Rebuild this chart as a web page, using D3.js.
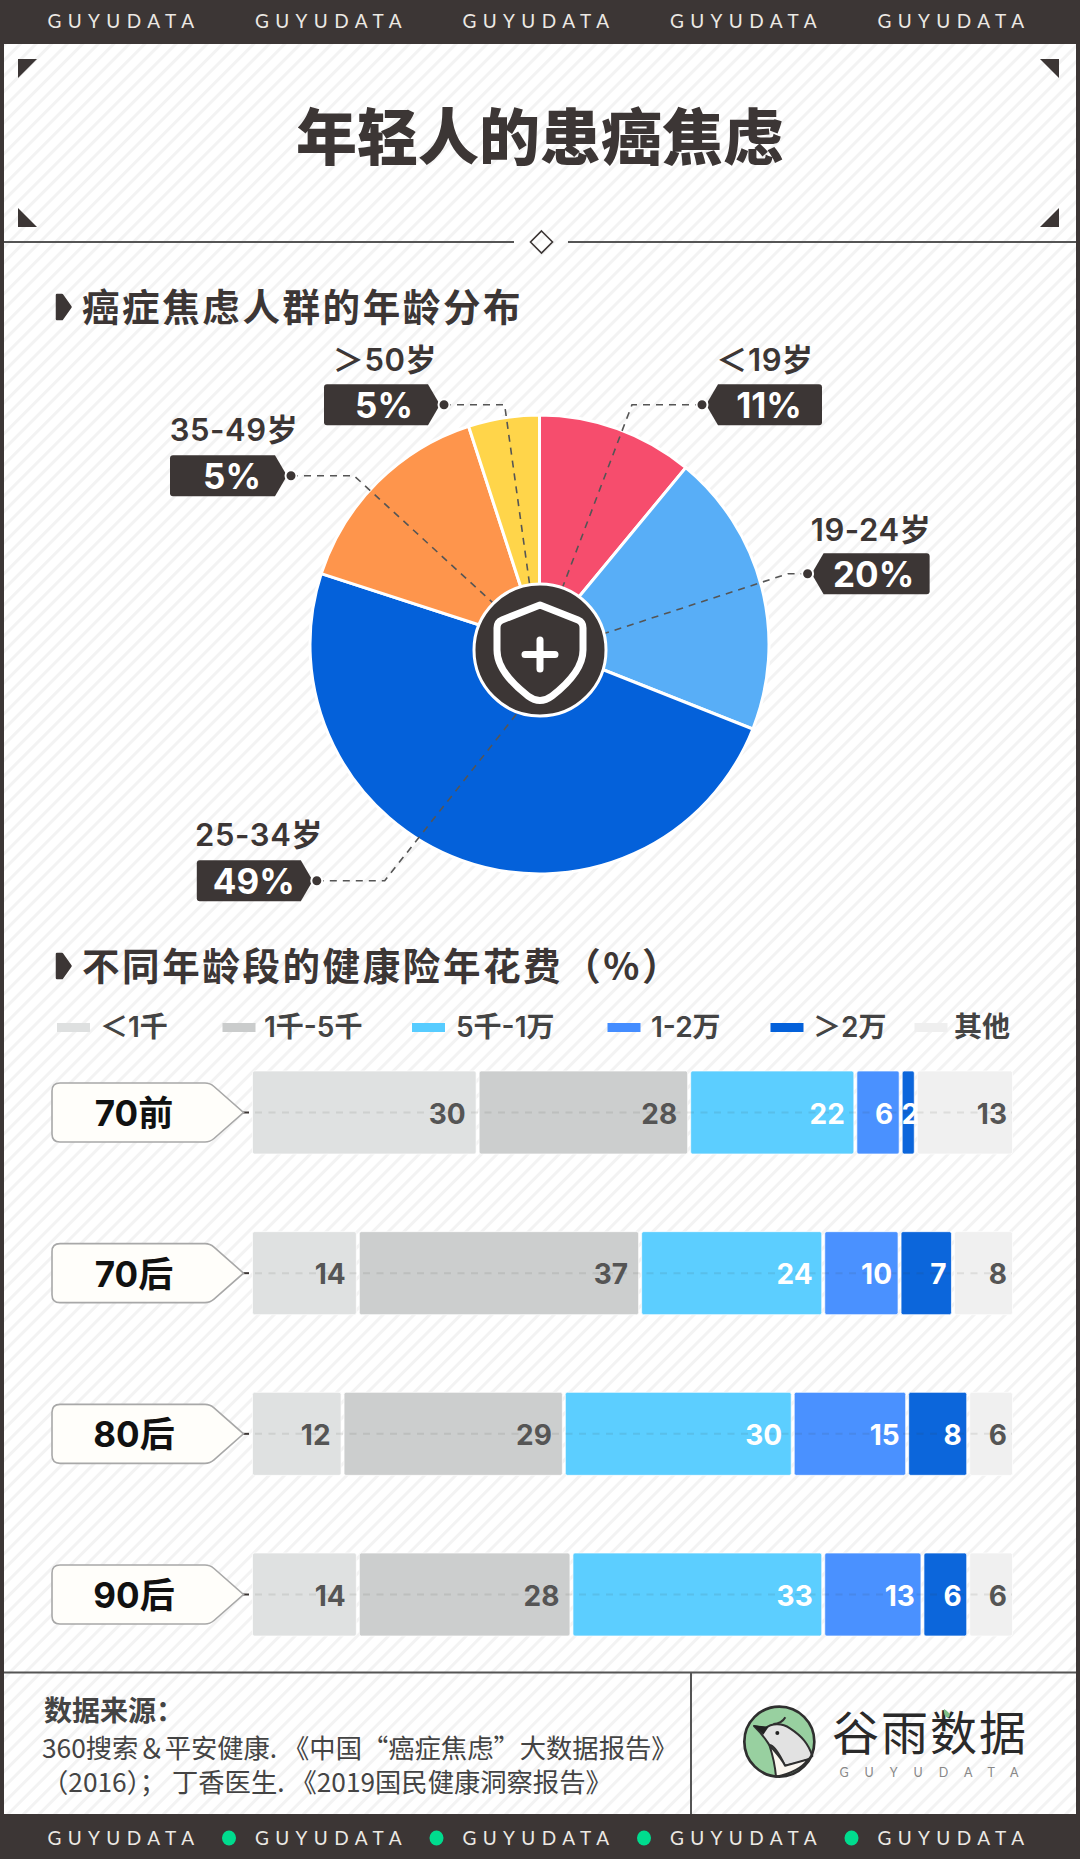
<!DOCTYPE html>
<html lang="zh-CN">
<head>
<meta charset="utf-8">
<title>年轻人的患癌焦虑</title>
<script src="https://cdn.jsdelivr.net/npm/d3@7/dist/d3.min.js"></script>
<style>
  html, body { margin: 0; padding: 0; background: #fff; }
  svg { display: block; }
  text { font-family: Inter, "Noto Sans CJK SC", sans-serif; }
</style>
</head>
<body>
<svg id="chart" width="1080" height="1859" viewBox="0 0 1080 1859"></svg>
<script>
// ---- Age distribution ----
const ageGroups = ["＜19岁", "19-24岁", "25-34岁", "35-49岁", "＞50岁"];
// Shares that make up the whole disc.
const ageShares = [11, 20, 49, 15, 5];
// Figures as printed on the tags; the 35-49 tag reads 5% although its slice is 15%.
const ageTags = ["11%", "20%", "49%", "5%", "5%"];
const ageColors = ["#f64d6d", "#58aef7", "#0461da", "#fe954c", "#ffd54a"];

// ---- Yearly spending on health insurance ----
const spendBands = ["＜1千", "1千-5千", "5千-1万", "1-2万", "＞2万", "其他"];
const spendColors = ["#dee0e0", "#cacccc", "#57ccff", "#448dff", "#0461da", "#efefef"];
const cohorts = ["70前", "70后", "80后", "90后"];
const spend70Before = [30, 28, 22, 6, 2, 13];
const spend70After = [14, 37, 24, 10, 7, 8];
const spend80After = [12, 29, 30, 15, 8, 6];
const spend90After = [14, 28, 33, 13, 6, 6];

const brand = "GUYUDATA";
const ink = "#3c3635";
const svg = d3.select("#chart");
const cjk = '"Noto Sans CJK SC", sans-serif';

function label(parent, x, y, str, opts = {}) {
  return parent.append("text")
    .attr("x", x).attr("y", y).attr("dy", "0.36em")
    .attr("text-anchor", opts.anchor || "middle")
    .attr("fill", opts.fill || ink)
    .attr("font-size", opts.size || 28)
    .attr("font-weight", opts.weight || 400)
    .style("font-family", opts.family || null)
    .style("letter-spacing", opts.spacing || null)
    .text(str);
}

// ---- Paper, stripes and frame ----
const defs = svg.append("defs");
defs.append("pattern")
  .attr("id", "stripes").attr("width", 11).attr("height", 11)
  .attr("patternUnits", "userSpaceOnUse")
  .attr("patternTransform", "rotate(45)")
  .append("rect").attr("width", 3).attr("height", 11).attr("fill", "#f3f3f3");
svg.append("rect").attr("width", 1080).attr("height", 1859).attr("fill", "#fff");
svg.append("rect").attr("width", 1080).attr("height", 1859).attr("fill", "url(#stripes)");

const frame = svg.append("g").attr("fill", ink);
frame.append("rect").attr("width", 1080).attr("height", 44);
frame.append("rect").attr("y", 1814).attr("width", 1080).attr("height", 45);
frame.append("rect").attr("width", 4).attr("height", 1859);
frame.append("rect").attr("x", 1076).attr("width", 4).attr("height", 1859);

const bannerX = d3.scalePoint().domain(d3.range(5)).range([124, 954]);
d3.range(5).forEach(i => {
  label(svg, bannerX(i), 21.5, brand, { fill: "#ece9e4", size: 19, family: "Lato, sans-serif", spacing: "6.4px" });
  label(svg, bannerX(i), 1838, brand, { fill: "#ece9e4", size: 19, family: "Lato, sans-serif", spacing: "6.4px" });
});
d3.range(4).forEach(i => {
  svg.append("ellipse").attr("cx", bannerX(i) + 105).attr("cy", 1838)
    .attr("rx", 7).attr("ry", 7.5).attr("fill", "#00dc8e");
});

// Corner ticks around the title
[["M18 59H37L18 78Z"], ["M1040 59H1059V78Z"], ["M18 208L37 227H18Z"], ["M1059 208V227H1040Z"]]
  .forEach(([d]) => svg.append("path").attr("d", d).attr("fill", ink));

label(svg, 540, 138, "年轻人的患癌焦虑", { size: 61, weight: 900, family: cjk });

const rule = svg.append("g").attr("stroke", "#555").attr("stroke-width", 2).attr("fill", "none");
rule.append("path").attr("d", "M4 242H514M568 242H1076");
rule.append("path").attr("d", "M541.5 231L552.5 242L541.5 253L530.5 242Z").attr("stroke", ink).attr("stroke-width", 1.6);

function sectionHeading(y, str) {
  svg.append("path")
    .attr("d", `M57 ${y - 12}H62L70.5 ${y}L62 ${y + 12}H57Z`)
    .attr("fill", ink).attr("stroke", ink).attr("stroke-width", 2.5).attr("stroke-linejoin", "round");
  label(svg, 82, y, str, { anchor: "start", size: 37.5, weight: 700, family: cjk, spacing: "2.6px" });
}
sectionHeading(307, "癌症焦虑人群的年龄分布");
sectionHeading(966, "不同年龄段的健康险年花费（%）");

// ---- Pie ----
const pieCenter = { x: 539.5, y: 644.5 };
const hubCenter = { x: 540, y: 650 };
const pieRadius = 229.5;
const hubRadius = 67;
const arcs = d3.pie().sort(null)(ageShares);
const arcPath = d3.arc().innerRadius(0).outerRadius(pieRadius);

svg.append("g").attr("transform", `translate(${pieCenter.x},${pieCenter.y})`)
  .selectAll("path").data(arcs).join("path")
  .attr("d", arcPath)
  .attr("fill", (d, i) => ageColors[i])
  .attr("stroke", "#fff").attr("stroke-width", 3);

// Tag placement: where the round pin sits, where its leader bends and which way the tag hangs.
const tagPlacement = [
  { pinX: 702, pinY: 404.7, elbowX: 632, side: 1, w: 116, textDx: 67, captionX: 765, captionDy: -44.7 },
  { pinX: 807.6, pinY: 573.7, elbowX: 788, side: 1, w: 118, textDx: 66, captionX: 871, captionDy: -43.7 },
  { pinX: 316.8, pinY: 880.7, elbowX: 384.7, side: -1, w: 116, textDx: -63, captionX: 259, captionDy: -45.7 },
  { pinX: 291, pinY: 475.7, elbowX: 354, side: -1, w: 117, textDx: -59, captionX: 234, captionDy: -45.7 },
  { pinX: 444, pinY: 404.7, elbowX: 504.6, side: -1, w: 116, textDx: -60, captionX: 385, captionDy: -44.7 }
];

// Leaders leave the hub at each slice's mid-angle, bend once and run level to the pin.
const leaders = svg.append("g").attr("fill", "none").attr("stroke", "#555")
  .attr("stroke-width", 1.6).attr("stroke-dasharray", "7 6");
arcs.forEach((a, i) => {
  const p = tagPlacement[i];
  const mid = (a.startAngle + a.endAngle) / 2;
  const sx = hubCenter.x + hubRadius * Math.sin(mid);
  const sy = hubCenter.y - hubRadius * Math.cos(mid);
  leaders.append("path").attr("d", d3.line()([[p.pinX, p.pinY], [p.elbowX, p.pinY], [sx, sy]]));
});

tagPlacement.forEach((p, i) => {
  const h = 20.5, inset = 12, r = 3;
  const tip = p.pinX + p.side * 4;
  const far = tip + p.side * p.w;
  const neck = tip + p.side * inset;
  const d = `M${tip} ${p.pinY}L${neck} ${p.pinY - h}H${far - p.side * r}Q${far} ${p.pinY - h} ${far} ${p.pinY - h + r}`
    + `V${p.pinY + h - r}Q${far} ${p.pinY + h} ${far - p.side * r} ${p.pinY + h}H${neck}Z`;
  svg.append("path").attr("d", d).attr("fill", ink);
  svg.append("circle").attr("cx", p.pinX).attr("cy", p.pinY).attr("r", 5.5)
    .attr("fill", ink).attr("stroke", "#fff").attr("stroke-width", 2);
  label(svg, p.pinX + p.textDx, p.pinY + 1, ageTags[i], { fill: "#fff", size: 35, weight: 700 });
  label(svg, p.captionX, p.pinY + p.captionDy, ageGroups[i], { size: 31, weight: 600, spacing: "0.6px" });
});

// Hub with the shield mark
svg.append("circle").attr("cx", hubCenter.x).attr("cy", hubCenter.y).attr("r", hubRadius - 1)
  .attr("fill", ink).attr("stroke", "#fff").attr("stroke-width", 3);
const shield = svg.append("g").attr("fill", "none").attr("stroke", "#fff").attr("stroke-linecap", "round").attr("stroke-linejoin", "round");
shield.append("path").attr("stroke-width", 7)
  .attr("d", "M540 605L578 620Q583 622 583 628V650Q583 672 552 696Q540 705 528 696Q497 672 497 650V628Q497 622 502 620Z");
shield.append("path").attr("stroke-width", 7).attr("d", "M540 640V669M525 654.5H555");

// ---- Legend ----
const legendSwatchX = [57, 222.5, 412, 607.5, 770.5, 914.5];
const legendTextX = [100, 264, 456, 651, 813, 954];
spendBands.forEach((band, i) => {
  svg.append("rect").attr("x", legendSwatchX[i]).attr("y", 1023).attr("width", 33).attr("height", 9)
    .attr("fill", spendColors[i]);
  label(svg, legendTextX[i], 1027, band, { anchor: "start", size: 28, weight: 600, fill: "#444" });
});

// ---- Stacked bars, each row spread over its own total ----
const spendRows = [spend70Before, spend70After, spend80After, spend90After];
const rowTable = spendRows.map((vals, r) => {
  const row = { cohort: cohorts[r] };
  spendBands.forEach((b, i) => { row[b] = vals[i]; });
  return row;
});
const stacked = d3.stack().keys(spendBands).offset(d3.stackOffsetExpand)(rowTable);
const barX = d3.scaleLinear().domain([0, 1]).range([251, 1014]);
const barY = d3.scalePoint().domain(cohorts).range([1112.5, 1594.5]);
const barHeight = 83;
const gap = 1.5;
// How far each band's figure sits in from the end of its segment.
const figureInset = [10.5, 10.5, 9, 6, 5, 5.5];

const bars = svg.append("g");
stacked.forEach((layer, b) => {
  bars.append("g").selectAll("rect").data(layer).join("rect")
    .attr("x", d => barX(d[0]) + gap)
    .attr("width", d => barX(d[1]) - barX(d[0]) - 2 * gap)
    .attr("y", d => barY(d.data.cohort) - barHeight / 2)
    .attr("height", barHeight)
    .attr("rx", 2)
    .attr("fill", spendColors[b])
    .attr("fill-opacity", 0.97)
    .attr("stroke", "#fff").attr("stroke-width", 1).attr("stroke-opacity", 0.7);
});

// Connector dashes run faintly across each bar, under the figures.
const dashes = svg.append("g").attr("fill", "none");
cohorts.forEach(c => {
  const y = barY(c);
  dashes.append("path").attr("d", `M243 ${y}H249`).attr("stroke", ink).attr("stroke-width", 2);
  dashes.append("path").attr("d", `M255 ${y}H1012`).attr("stroke", "rgba(60,54,53,0.1)")
    .attr("stroke-width", 2).attr("stroke-dasharray", "7 6.5");
});

stacked.forEach((layer, b) => {
  layer.forEach(d => {
    const value = d.data[spendBands[b]];
    const x0 = barX(d[0]) + gap, x1 = barX(d[1]) - gap;
    const narrow = x1 - x0 < 20;
    const onBlue = b >= 2 && b <= 4;
    label(svg, narrow ? (x0 + x1) / 2 + 2 : x1 - figureInset[b], barY(d.data.cohort) + 1, value, {
      anchor: narrow ? "middle" : "end",
      size: 28, weight: 700,
      fill: onBlue ? "#fff" : "#555"
    });
  });
});

// Cohort tags
cohorts.forEach(c => {
  const y = barY(c);
  svg.append("path")
    .attr("d", `M60 ${y - 29.5}H205Q210 ${y - 29.5} 214 ${y - 26}L243.5 ${y}L214 ${y + 26}Q210 ${y + 29.5} 205 ${y + 29.5}H60Q52 ${y + 29.5} 52 ${y + 21.5}V${y - 21.5}Q52 ${y - 29.5} 60 ${y - 29.5}Z`)
    .attr("fill", "#fffefa").attr("stroke", "#a8a8a8").attr("stroke-width", 1.6);
  label(svg, 134, y + 1, c, { size: 35, weight: 700, fill: "#111" });
});

// ---- Footer ----
const foot = svg.append("g").attr("stroke", "#555").attr("stroke-width", 2).attr("fill", "none");
foot.append("path").attr("d", "M4 1672.5H1076M691 1672.5V1814");
label(svg, 44, 1711, "数据来源：", { anchor: "start", size: 28, weight: 700, family: cjk, fill: "#444" });
label(svg, 42, 1749, "360搜索＆平安健康. 《中国“癌症焦虑”大数据报告》", { anchor: "start", size: 26.3, family: cjk, fill: "#444" });
label(svg, 42, 1783, "（2016）； 丁香医生. 《2019国民健康洞察报告》", { anchor: "start", size: 26.3, family: cjk, fill: "#444" });

// Brand mark: a small bird in a green disc
const mark = svg.append("g").attr("transform", "translate(740,1700) scale(0.3333)")
  .attr("stroke", "#2f2f2f").attr("stroke-width", 8).attr("stroke-linejoin", "round");
mark.append("circle").attr("cx", 118).attr("cy", 125).attr("r", 105).attr("fill", "#98d0a0").attr("stroke", "none");
mark.append("path").attr("fill", "#e2e2e2").attr("stroke-width", 6)
  .attr("d", "M42 78L75 85C95 70 125 68 150 85C185 108 205 130 217 168L205 178C175 190 150 195 135 197C120 165 100 135 88 135C78 120 70 105 42 78Z");
mark.append("path").attr("fill", "#fbf7f0").attr("stroke-width", 6)
  .attr("d", "M88 135C105 155 125 175 135 197L205 178C185 205 150 222 108 230C105 195 98 165 88 135Z");
mark.append("path").attr("fill", "#222").attr("stroke", "none").attr("d", "M40 76L86 80L70 104Z");
mark.append("path").attr("fill", "none").attr("stroke-width", 6).attr("d", "M100 72C115 72 128 66 136 52");
mark.append("circle").attr("cx", 112).attr("cy", 99).attr("r", 6).attr("fill", "#222").attr("stroke", "none");
mark.append("circle").attr("cx", 118).attr("cy", 125).attr("r", 105).attr("fill", "none");

label(svg, 930, 1733, "谷雨数据", { size: 47, weight: 400, family: cjk, fill: "#2a2a2a", spacing: "2px" });
label(svg, 937, 1772, brand, { size: 12.5, family: "Lato, sans-serif", fill: "#888", spacing: "16px" });
svg.append("path").attr("d", "M944 1709Q953 1714 948 1718Q943 1716 944 1709Z").attr("fill", "#7fbf88");
</script>
</body>
</html>
